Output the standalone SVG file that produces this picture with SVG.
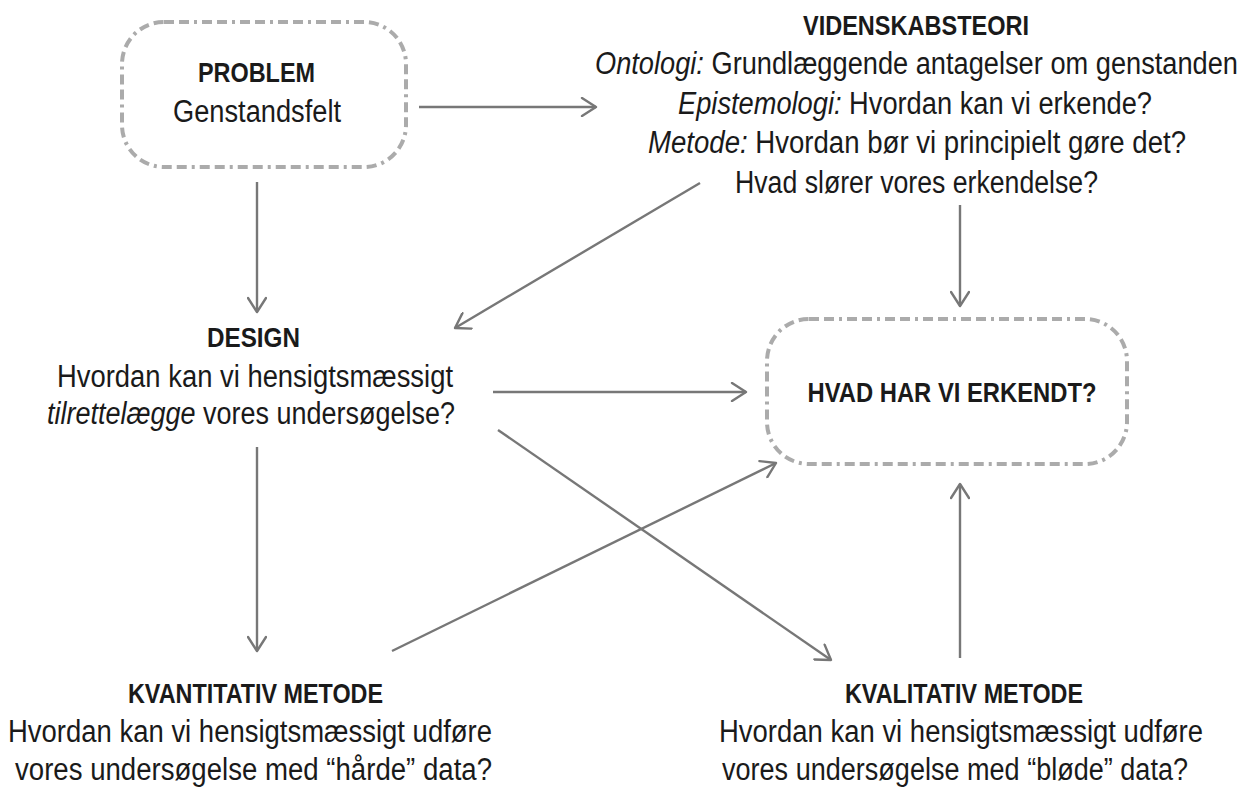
<svg xmlns="http://www.w3.org/2000/svg" width="1254" height="787" viewBox="0 0 1254 787">
  <defs>
    <marker id="head" viewBox="0 0 20 20" refX="18" refY="10" markerWidth="20" markerHeight="20" markerUnits="userSpaceOnUse" orient="auto">
      <path d="M4,1 L18,10 L4,19" fill="none" stroke="#777" stroke-width="2.4" stroke-linecap="round" stroke-linejoin="round"/>
    </marker>
    <style>
      text { font-family: "Liberation Sans", Arial, sans-serif; fill: #1a1a1a; text-anchor: middle; }
      .h { font-weight: bold; font-size: 28px; }
      .b { font-size: 31px; }
      .i { font-style: italic; }
      .box { fill: none; stroke: #ababab; stroke-width: 4; stroke-dasharray: 10 5 10 5 3 5; }
      .conn line { stroke: #777; stroke-width: 2.4; marker-end: url(#head); }
    </style>
  </defs>
  <rect width="1254" height="787" fill="#fff"/>

  <!-- connectors -->
  <g id="connectors" class="conn">
    <line x1="419" y1="107" x2="596" y2="107"/>
    <line x1="257" y1="182" x2="257" y2="312"/>
    <line x1="700" y1="183" x2="455" y2="328"/>
    <line x1="960" y1="205" x2="960" y2="306"/>
    <line x1="493" y1="392" x2="746" y2="392"/>
    <line x1="257" y1="447" x2="257" y2="651"/>
    <line x1="498" y1="430" x2="831" y2="660"/>
    <line x1="392" y1="651" x2="776" y2="463"/>
    <line x1="960" y1="658" x2="960" y2="484"/>
  </g>

  <g id="problem">
    <rect class="box" x="122" y="22" width="284" height="145" rx="42"/>
    <text class="h" x="256.5" y="82" textLength="117" lengthAdjust="spacingAndGlyphs">PROBLEM</text>
    <text class="b" x="257" y="122" textLength="168" lengthAdjust="spacingAndGlyphs">Genstandsfelt</text>
  </g>

  <g id="videnskabsteori">
    <text class="h" x="916" y="35" textLength="226" lengthAdjust="spacingAndGlyphs">VIDENSKABSTEORI</text>
    <text class="b" x="916.5" y="74" textLength="643" lengthAdjust="spacingAndGlyphs"><tspan class="i">Ontologi:</tspan> Grundlæggende antagelser om genstanden</text>
    <text class="b" x="915" y="114" textLength="474" lengthAdjust="spacingAndGlyphs"><tspan class="i">Epistemologi:</tspan> Hvordan kan vi erkende?</text>
    <text class="b" x="917" y="153" textLength="538" lengthAdjust="spacingAndGlyphs"><tspan class="i">Metode:</tspan> Hvordan bør vi principielt gøre det?</text>
    <text class="b" x="916.5" y="193" textLength="363" lengthAdjust="spacingAndGlyphs">Hvad slører vores erkendelse?</text>
  </g>

  <g id="design">
    <text class="h" x="253.5" y="347" textLength="93" lengthAdjust="spacingAndGlyphs">DESIGN</text>
    <text class="b" x="255" y="387" textLength="396" lengthAdjust="spacingAndGlyphs">Hvordan kan vi hensigtsmæssigt</text>
    <text class="b" x="251" y="424" textLength="408" lengthAdjust="spacingAndGlyphs"><tspan class="i">tilrettelægge</tspan> vores undersøgelse?</text>
  </g>

  <g id="erkendt">
    <rect class="box" x="767" y="319" width="360" height="145" rx="42"/>
    <text class="h" x="952" y="402" textLength="289" lengthAdjust="spacingAndGlyphs">HVAD HAR VI ERKENDT?</text>
  </g>

  <g id="kvantitativ">
    <text class="h" x="255.5" y="703" textLength="255" lengthAdjust="spacingAndGlyphs">KVANTITATIV METODE</text>
    <text class="b" x="250" y="742" textLength="484" lengthAdjust="spacingAndGlyphs">Hvordan kan vi hensigtsmæssigt udføre</text>
    <text class="b" x="253.5" y="780" textLength="477" lengthAdjust="spacingAndGlyphs">vores undersøgelse med “hårde” data?</text>
  </g>

  <g id="kvalitativ">
    <text class="h" x="964" y="703" textLength="238" lengthAdjust="spacingAndGlyphs">KVALITATIV METODE</text>
    <text class="b" x="961" y="742" textLength="484" lengthAdjust="spacingAndGlyphs">Hvordan kan vi hensigtsmæssigt udføre</text>
    <text class="b" x="955" y="780" textLength="466" lengthAdjust="spacingAndGlyphs">vores undersøgelse med “bløde” data?</text>
  </g>
</svg>
